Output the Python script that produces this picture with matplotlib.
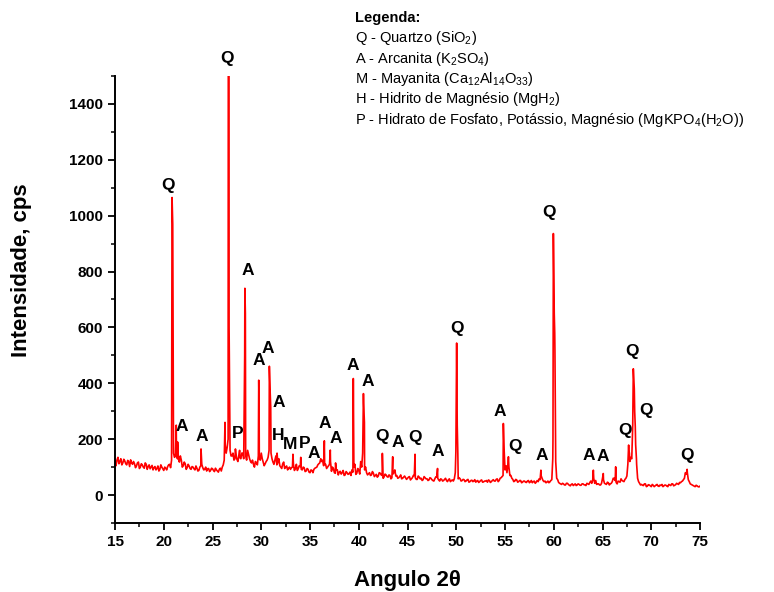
import numpy as np
import matplotlib
matplotlib.use("Agg")
import matplotlib.pyplot as plt
from matplotlib.ticker import MultipleLocator

plt.rcParams['font.family'] = ['Liberation Sans', 'DejaVu Sans']
plt.rcParams['mathtext.fontset'] = 'custom'
plt.rcParams['mathtext.rm'] = 'Liberation Sans'

# background of the pattern, every 0.2 deg from 15.0 to 75.0
base_counts = [
    118, 125, 112, 130, 115, 122, 108, 119, 126, 110,   # 15.0 - 16.8
    112, 104, 118, 100, 108, 96, 110, 102, 94, 106,     # 17.0 - 18.8
    98, 90, 104, 92, 100, 88, 96, 102, 110, 125,        # 19.0 - 20.8
    150, 140, 130, 118, 125, 105, 112, 98, 104, 92,     # 21.0 - 22.8
    100, 90, 96, 88, 105, 98, 92, 86, 95, 88,           # 23.0 - 24.8
    94, 84, 90, 82, 96, 100, 125, 150, 200, 160,        # 25.0 - 26.8
    140, 125, 150, 120, 135, 150, 130, 140, 160, 130,   # 27.0 - 28.8
    115, 110, 120, 108, 130, 150, 118, 112, 125, 160,   # 29.0 - 30.8
    150, 118, 125, 108, 130, 100, 112, 95, 104, 96,     # 31.0 - 32.8
    92, 100, 88, 110, 95, 102, 90, 98, 86, 92,          # 33.0 - 34.8
    80, 88, 92, 98, 108, 115, 120, 105, 110, 100,       # 35.0 - 36.8
    110, 85, 95, 78, 90, 82, 75, 88, 72, 80,            # 37.0 - 38.8
    76, 70, 82, 110, 78, 88, 120, 150, 90, 80,          # 39.0 - 40.8
    76, 70, 84, 66, 74, 68, 78, 70, 65, 72,             # 41.0 - 42.8
    64, 70, 62, 80, 68, 60, 66, 58, 64, 62,             # 43.0 - 44.8
    60, 66, 58, 70, 62, 56, 64, 60, 55, 62,             # 45.0 - 46.8
    58, 54, 60, 52, 58, 65, 54, 58, 50, 56,             # 47.0 - 48.8
    52, 55, 48, 54, 58, 350, 58, 58, 52, 55,            # 49.0 - 50.8
    50, 56, 48, 53, 50, 46, 52, 48, 54, 47,             # 51.0 - 52.8
    50, 46, 52, 48, 55, 50, 58, 52, 62, 70,             # 53.0 - 54.8
    90, 80, 100, 70, 56, 50, 54, 48, 52, 46,            # 55.0 - 56.8
    50, 45, 52, 47, 44, 50, 46, 48, 55, 60,             # 57.0 - 58.8
    48, 44, 50, 47, 55, 800, 120, 55, 42, 38,           # 59.0 - 60.8
    40, 36, 42, 35, 38, 34, 40, 36, 38, 35,             # 61.0 - 62.8
    40, 36, 42, 38, 50, 55, 42, 38, 40, 36,             # 63.0 - 64.8
    60, 42, 38, 44, 40, 48, 60, 45, 50, 46,             # 65.0 - 66.8
    52, 48, 60, 110, 120, 130, 420, 180, 60, 42,        # 67.0 - 68.8
    38, 34, 40, 32, 36, 30, 35, 33, 38, 31,             # 69.0 - 70.8
    34, 30, 36, 32, 38, 34, 40, 35, 42, 38,             # 71.0 - 72.8
    44, 50, 60, 75, 55, 40, 36, 32, 35, 30,             # 73.0 - 74.8
    32,                                                 # 75.0
]

# same background at the odd steps, 15.1 to 74.9
half_counts = [
    105, 135, 120, 108, 128, 112, 124, 102, 115, 120,   # 15.1 - 16.9
    98, 115, 95, 112, 100, 115, 92, 108, 100, 90,       # 17.1 - 18.9
    102, 95, 86, 108, 94, 100, 90, 108, 98, 1000,       # 19.1 - 20.9
    135, 160, 130, 140, 100, 118, 92, 110, 95, 102,     # 21.1 - 22.9
    94, 104, 86, 100, 110, 90, 100, 94, 84, 96,         # 23.1 - 24.9
    88, 96, 86, 92, 86, 108, 180, 170, 600, 140,        # 25.1 - 26.9
    150, 130, 128, 140, 130, 150, 500, 125, 145, 120,   # 27.1 - 28.9
    125, 100, 115, 140, 125, 130, 105, 120, 135, 380,   # 29.1 - 30.9
    130, 110, 140, 115, 105, 95, 118, 100, 90, 100,     # 31.1 - 32.9
    98, 110, 95, 88, 105, 92, 100, 84, 95, 82,          # 33.1 - 34.9
    90, 80, 96, 100, 112, 130, 125, 110, 95, 105,       # 35.1 - 36.9
    120, 100, 80, 90, 72, 85, 80, 70, 84, 74,           # 37.1 - 38.9
    82, 90, 100, 74, 95, 75, 100, 330, 100, 72,         # 39.1 - 40.9
    80, 72, 78, 70, 64, 80, 72, 60, 75, 66,             # 41.1 - 42.9
    72, 58, 75, 90, 70, 62, 72, 60, 68, 56,             # 43.1 - 44.9
    64, 54, 62, 70, 56, 68, 58, 52, 66, 58,             # 45.1 - 46.9
    52, 62, 55, 50, 65, 60, 50, 56, 52, 60,             # 47.1 - 48.9
    48, 58, 52, 50, 80, 250, 62, 50, 56, 48,            # 49.1 - 50.9
    54, 46, 52, 48, 55, 50, 45, 52, 46, 50,             # 51.1 - 52.9
    52, 54, 45, 52, 50, 56, 48, 60, 66, 170,            # 53.1 - 54.9
    105, 110, 70, 60, 48, 56, 46, 52, 44, 50,           # 55.1 - 56.9
    46, 50, 44, 52, 48, 42, 52, 58, 70, 52,             # 57.1 - 58.9
    50, 46, 44, 52, 130, 580, 60, 45, 40, 42,           # 59.1 - 60.9
    36, 42, 38, 33, 40, 37, 34, 40, 35, 40,             # 61.1 - 62.9
    37, 34, 40, 45, 42, 60, 52, 40, 36, 42,             # 63.1 - 64.9
    55, 40, 46, 36, 42, 60, 52, 40, 48, 58,             # 65.1 - 66.9
    50, 56, 68, 160, 135, 250, 300, 110, 48, 36,        # 67.1 - 68.9
    35, 40, 30, 37, 33, 38, 30, 36, 32, 36,             # 69.1 - 70.9
    38, 33, 35, 30, 36, 40, 33, 37, 40, 45,             # 71.1 - 72.9
    48, 55, 80, 80, 48, 38, 34, 30, 33, 29,             # 73.1 - 74.9
]

# reflections (tops and shoulders)
peak_angles = [20.85, 20.92, 21.28, 21.42, 23.82, 26.28, 26.62, 26.68,
               27.35, 27.78, 28.32, 28.37, 29.74, 29.78, 30.83, 30.97,
               31.62, 33.25, 34.05, 36.47, 37.08, 37.62, 39.44, 40.48,
               40.58, 42.42, 43.48, 45.77, 48.08, 49.96, 50.04, 50.08,
               50.16, 54.83, 54.88, 55.35, 58.68, 59.92, 59.96, 60.05,
               60.12, 64.06, 65.08, 66.35, 67.68, 67.76, 68.16, 68.26,
               68.36, 68.48, 73.68]
peak_counts = [1065, 970, 250, 190, 165, 260, 1700, 1600,
               165, 160, 740, 650, 411, 300, 461, 315,
               150, 146, 135, 194, 161, 115, 417, 363,
               260, 149, 137, 146, 95, 155, 544, 310,
               150, 256, 196, 137, 89, 200, 936, 650,
               518, 89, 77, 101, 179, 150, 452, 380,
               245, 130, 92]

# phase labels: letter, angle, intensity
label_text = ['Q', 'Q', 'A', 'A', 'P', 'A', 'A', 'A', 'A', 'H', 'M', 'P',
              'A', 'A', 'A', 'A', 'A', 'Q', 'A', 'Q', 'A', 'Q', 'A', 'Q',
              'A', 'Q', 'A', 'A', 'Q', 'Q', 'Q', 'Q']
label_x = [20.47, 26.49, 21.84, 23.9, 27.58, 28.57, 29.7, 30.72, 31.85,
           31.72, 32.95, 34.45, 35.44, 36.54, 37.67, 39.34, 40.9, 42.42,
           44.0, 45.74, 48.06, 50.08, 54.49, 56.03, 58.76, 59.51, 63.55,
           65.0, 67.3, 68.0, 69.46, 73.64]
label_y = [1107, 1564, 244, 208, 222, 804, 482, 524, 330,
           214, 180, 185, 149, 256, 202, 464, 408, 208,
           187, 205, 155, 596, 300, 173, 143, 1011, 143,
           137, 232, 515, 304, 143]

legend_lines = [
    r'Q - Quartzo (SiO$_2$)',
    r'A - Arcanita (K$_2$SO$_4$)',
    r'M - Mayanita (Ca$_{12}$Al$_{14}$O$_{33}$)',
    r'H - Hidrito de Magnésio (MgH$_2$)',
    r'P - Hidrato de Fosfato, Potássio, Magnésio (MgKPO$_4$(H$_2$O))',
]

base_angles = 15.0 + 0.2 * np.arange(len(base_counts))
half_angles = 15.1 + 0.2 * np.arange(len(half_counts))
angles = np.concatenate([base_angles, half_angles, peak_angles])
counts = np.concatenate([base_counts, half_counts, peak_counts])
order = np.argsort(angles, kind='stable')

fig = plt.figure(figsize=(7.74, 5.92), dpi=100)
ax = fig.add_axes([0.1486, 0.1166, 0.7558, 0.755])
ax.plot(angles[order], counts[order], color='#ff0000', lw=1.2)

ax.set_xlim(15, 75)
ax.set_ylim(-100, 1500)
ax.xaxis.set_major_locator(MultipleLocator(5))
ax.xaxis.set_minor_locator(MultipleLocator(2.5))
ax.set_yticks(np.arange(0, 1401, 200))
ax.yaxis.set_minor_locator(MultipleLocator(100))
for s in ['top', 'right']:
    ax.spines[s].set_visible(False)
for s in ['left', 'bottom']:
    ax.spines[s].set_linewidth(1.4)
ax.tick_params(which='major', direction='out', length=5, width=1.3,
               labelsize=11)
ax.tick_params(which='minor', direction='out', length=3, width=1.1)
for lab in ax.get_xticklabels() + ax.get_yticklabels():
    lab.set_fontweight('bold')

ax.set_xlabel('Angulo 2θ', fontsize=16, fontweight='bold')
ax.xaxis.set_label_coords(0.5, -0.105)
ax.set_ylabel('Intensidade, cps', fontsize=16, fontweight='bold')
ax.yaxis.set_label_coords(-0.142, 0.566)

for t, xx, yy in zip(label_text, label_x, label_y):
    ax.text(xx, yy, t, ha='center', va='center', fontsize=12.5,
            fontweight='bold', clip_on=False)

fig.text(355 / 774, 1 - 18 / 592, 'Legenda:', fontsize=10.5,
         fontweight='bold', va='center')
for i, line in enumerate(legend_lines):
    fig.text(355 / 774, 1 - (38 + 20.5 * i) / 592, line, fontsize=10.5,
             va='center')

fig.savefig('out.png', dpi=100)
